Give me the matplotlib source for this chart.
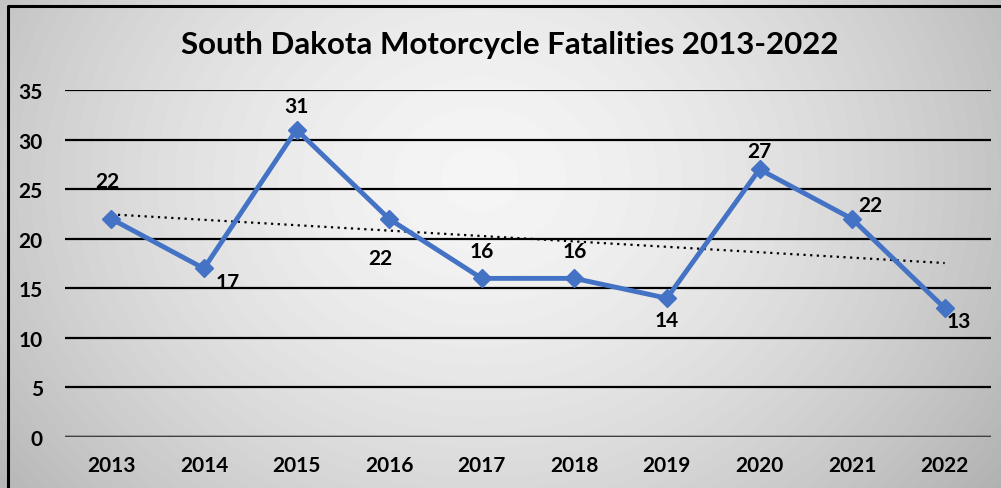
import numpy as np
import matplotlib.pyplot as plt

years = ['2013', '2014', '2015', '2016', '2017', '2018', '2019', '2020', '2021', '2022']
deaths = [22, 17, 31, 22, 16, 16, 14, 27, 22, 13]
# label offsets in points (dx, dy)
lbl_off = [(-3, 27), (17, -10), (0, 17), (-6, -28), (0, 20), (0, 20), (0, -16), (0, 13), (13, 10), (10, -9)]

plt.rcParams['font.family'] = ['Lato', 'DejaVu Sans']

fig = plt.figure(figsize=(10.01, 4.89), dpi=100)

# gradient background
bg = fig.add_axes([0, 0, 1, 1])
bg.set_axis_off()
yy, xx = np.mgrid[0:489, 0:1001]
r = np.sqrt(((xx - 480) / 600.0) ** 2 + ((yy - 180) / 500.0) ** 2)
shade = 0.96 - 0.24 * np.clip(r, 0, 1.2) ** 1.6
bg.imshow(shade, cmap='gray', vmin=0, vmax=1, aspect='auto', extent=[0, 1001, 489, 0])
bg.set_xlim(0, 1001)
bg.set_ylim(489, 0)
bg.plot([8, 8, 1001], [489, 7, 7], color='black', lw=2.2, solid_capstyle='butt')

ax = fig.add_axes([65 / 1001, 1 - 438 / 489, (991 - 65) / 1001, (438 - 91) / 489])
ax.patch.set_alpha(0)
x = np.arange(len(years))
ax.set_xlim(-0.5, len(years) - 0.5)
ax.set_ylim(0, 35)
ax.set_yticks(range(0, 36, 5))
ax.yaxis.grid(True, color='black', lw=1.6)
ax.set_axisbelow(True)
for s in ax.spines.values():
    s.set_visible(False)
ax.axhline(0, color='#404040', lw=2.5, zorder=1)
ax.tick_params(length=0)
ax.tick_params(axis='y', pad=16, labelsize=15)
ax.tick_params(axis='x', pad=13, labelsize=15)
ax.set_xticks(x)
ax.set_xticklabels(years, fontweight='bold')
for t in ax.get_yticklabels():
    t.set_fontweight('bold')

ax.plot(x, deaths, color='#4472C4', lw=3.5, marker='D', ms=9, zorder=3)

coef = np.polyfit(x, deaths, 1)
ax.plot(x, np.polyval(coef, x), color='black', lw=1.6, ls=(0, (1, 2)), zorder=2)

for xi, v, (dx, dy) in zip(x, deaths, lbl_off):
    ax.annotate(str(v), (xi, v), xytext=(dx, dy), textcoords='offset points',
                ha='center', va='center', fontsize=15, fontweight='bold')

fig.text(0.509, 1 - 45 / 489, 'South Dakota Motorcycle Fatalities 2013-2022',
         ha='center', va='center', fontsize=22.5, fontweight='bold')

fig.savefig('out.png', dpi=100)
